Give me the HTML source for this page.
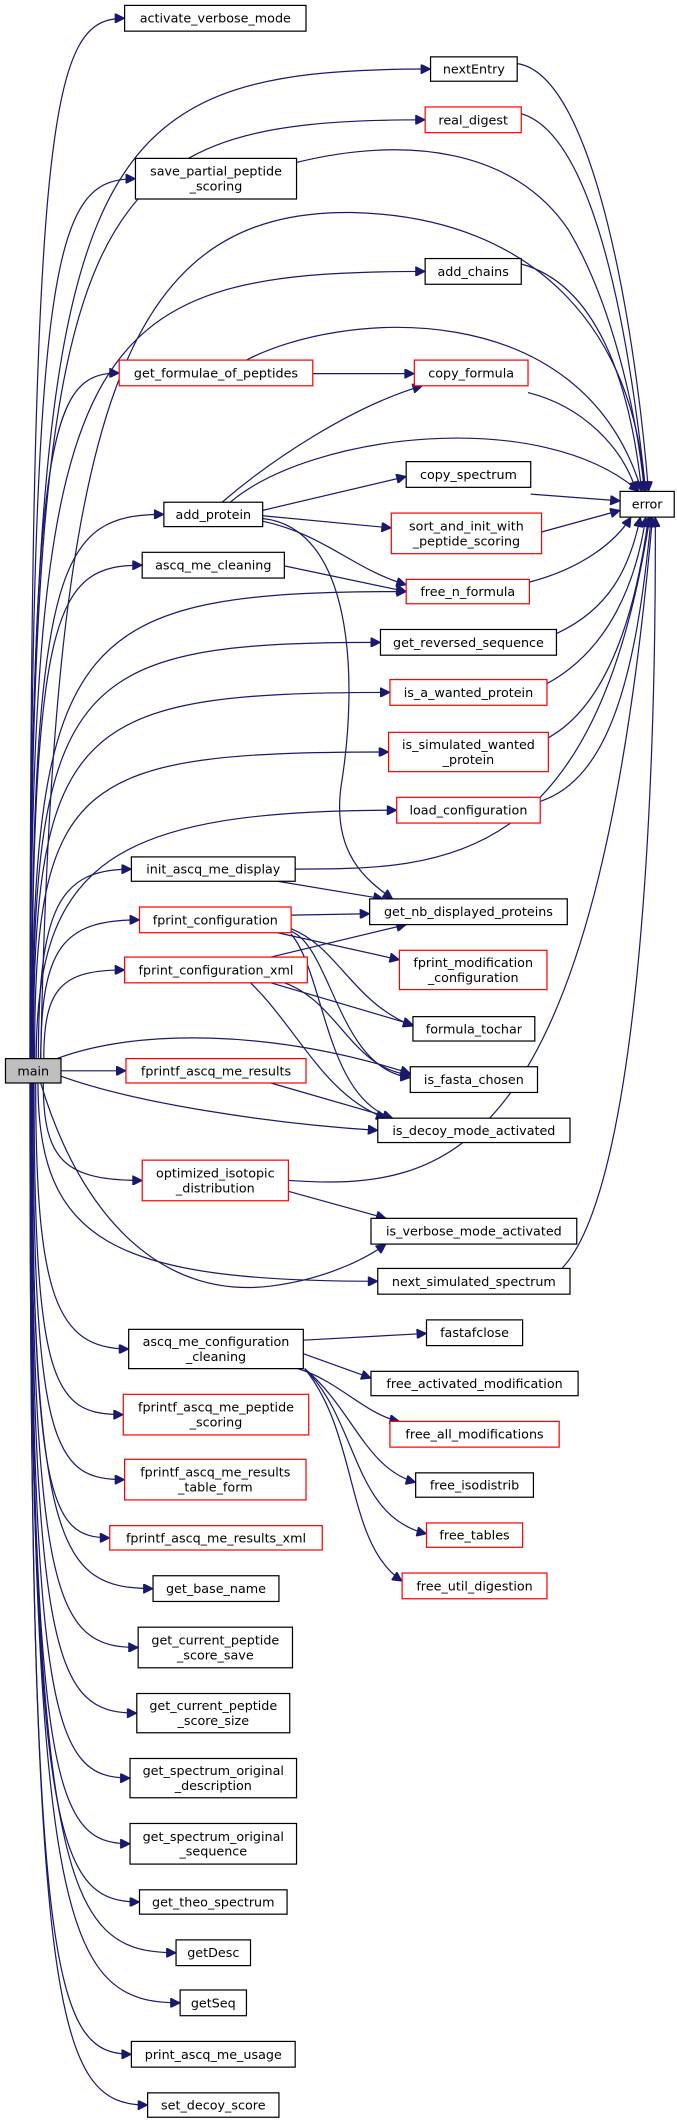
<!DOCTYPE html>
<html><head><meta charset="utf-8">
<style>
html,body{margin:0;padding:0;background:#fff;}
svg{display:block;}
text{font-family:"DejaVu Sans","Liberation Sans",sans-serif;font-size:9.4px;fill:#000;}
</style></head>
<body>
<svg id="s" width="677" height="2124" viewBox="0 0 500 1569" xmlns="http://www.w3.org/2000/svg">
<defs>
<marker id="a" viewBox="0 0 10 10" refX="10" refY="5" markerWidth="9" markerHeight="7" markerUnits="userSpaceOnUse" orient="auto">
<path d="M0,0 L10,5 L0,10 z" fill="#191970" stroke="#191970"/>
</marker>
</defs>
<g id="edges" fill="none" stroke="#191970" stroke-width="0.9"></g>
<g id="nodes"></g>
</svg>
<script>
var N={
main:[4,782,45,800,'main','g'],
act:[92,4,226,23,'activate_verbose_mode','k'],
next:[318,42,382,60,'nextEntry','k'],
real:[314,79,385,98,'real_digest','r'],
save:[100,117,219,147,'save_partial_peptide|_scoring','k'],
chains:[314,191,385,210,'add_chains','k'],
form:[88,266,231,285,'get_formulae_of_peptides','r'],
copyf:[306,266,390,285,'copy_formula','r'],
err:[458,363,498,382,'error','k'],
addp:[121,371,194,389,'add_protein','k'],
copys:[300,341,392,360,'copy_spectrum','k'],
sort:[289,379,400,409,'sort_and_init_with|_peptide_scoring','r'],
clean:[105,408,210,427,'ascq_me_cleaning','k'],
freen:[300,428,391,446,'free_n_formula','r'],
rev:[281,465,411,484,'get_reversed_sequence','k'],
wanted:[288,502,404,521,'is_a_wanted_protein','r'],
simw:[287,541,405,570,'is_simulated_wanted|_protein','r'],
load:[293,589,399,608,'load_configuration','r'],
init:[97,633,218,651,'init_ascq_me_display','k'],
nb:[273,664,419,683,'get_nb_displayed_proteins','k'],
fconf:[103,670,215,689,'fprint_configuration','r'],
fmod:[295,702,404,731,'fprint_modification|_configuration','r'],
fxml:[92,707,227,726,'fprint_configuration_xml','r'],
tochar:[305,751,395,769,'formula_tochar','k'],
fasta:[303,788,397,807,'is_fasta_chosen','k'],
fres:[93,782,226,800,'fprintf_ascq_me_results','r'],
decoy:[279,826,421,844,'is_decoy_mode_activated','k'],
opt:[105,857,213,887,'optimized_isotopic|_distribution','r'],
verb:[274,900,426,919,'is_verbose_mode_activated','k'],
nss:[279,937,421,956,'next_simulated_spectrum','k'],
cc:[95,982,224,1011,'ascq_me_configuration|_cleaning','k'],
fclose:[315,975,386,994,'fastafclose','k'],
fam:[274,1013,427,1031,'free_activated_modification','k'],
fall:[288,1050,413,1069,'free_all_modifications','r'],
fiso:[307,1088,394,1106,'free_isodistrib','k'],
ftab:[315,1125,386,1143,'free_tables','r'],
futil:[297,1162,404,1181,'free_util_digestion','r'],
pps:[91,1030,228,1060,'fprintf_ascq_me_peptide|_scoring','r'],
rtf:[92,1078,226,1108,'fprintf_ascq_me_results|_table_form','r'],
rxml:[81,1127,238,1145,'fprintf_ascq_me_results_xml','r'],
base:[113,1164,206,1183,'get_base_name','k'],
save2:[102,1202,216,1232,'get_current_peptide|_score_save','k'],
size:[101,1251,214,1280,'get_current_peptide|_score_size','k'],
desc:[96,1299,219,1328,'get_spectrum_original|_description','k'],
seqo:[96,1347,219,1377,'get_spectrum_original|_sequence','k'],
theo:[103,1396,212,1414,'get_theo_spectrum','k'],
gdesc:[130,1433,185,1452,'getDesc','k'],
gseq:[133,1470,182,1489,'getSeq','k'],
usage:[97,1508,218,1527,'print_ascq_me_usage','k'],
setd:[109,1546,206,1564,'set_decoy_score','k']
};
var NS="http://www.w3.org/2000/svg";
var eg=document.getElementById('edges'), ng=document.getElementById('nodes');
function P(d){var p=document.createElementNS(NS,'path');p.setAttribute('d',d);p.setAttribute('marker-end','url(#a)');eg.appendChild(p);}
var mt=['act','next','real','save','chains','form','addp','clean','freen','rev','wanted','simw','load','init','fconf','fxml','fres','opt','nss','cc','pps','rtf','rxml','base','save2','size','desc','seqo','theo','gdesc','gseq','usage','setd'];
mt.forEach(function(k){
 var n=N[k];var ex=n[0],ey=(n[1]+n[3])/2;
 var up=ey<782;var sy=up?782:800;
 if(k==='fres'){P('M45,791 L'+ex+','+ey);return;}
 var dy=Math.abs(ey-sy);
 var sx=22+16*Math.exp(-dy/150);
 var f=dy>200?0.92:0.8;
 var c1y=sy+(ey-sy)*f;
 var g=(ex>260&&dy>200)?0.12:0.22;
 P('M'+sx.toFixed(1)+','+sy+' C'+sx.toFixed(1)+','+c1y.toFixed(1)+' '+(sx+(ex-sx)*g).toFixed(1)+','+ey+' '+ex+','+ey);
});
var E=[
'M30,782 C40,300 90,155 260,157 C400,160 470,250 476,363',
'M42,782 C100,760 200,760 303,793',
'M45,795 C100,815 200,830 279,835',
'M30,800 C60,900 120,960 200,950 C240,945 270,930 285,919',
'M219,120 C300,100 380,110 420,170 C450,220 470,300 476,363',
'M182,266 C250,230 430,215 474,363',
'M170,371 C230,320 400,300 472,363',
'M218,642 C330,642 440,640 480,382',
'M213,872 C330,880 440,860 482,382',
'M415,937 C470,880 485,600 484,382',
'M399,592 C450,575 470,500 481,382',
'M405,545 C450,520 470,450 479,382',
'M404,505 C450,480 470,430 477,382',
'M411,468 C450,450 465,420 473,382',
'M391,430 C430,420 455,400 466,382',
'M400,393 L458,377',
'M392,365 L458,370',
'M390,290 C430,300 460,330 470,363',
'M385,195 C440,210 465,280 474,363',
'M385,84 C440,100 465,250 477,363',
'M382,47 C440,55 470,250 479,363',
'M164,371 C200,340 260,300 312,285',
'M194,377 L300,352',
'M194,381 L289,390',
'M194,385 C240,395 260,420 300,432',
'M194,383 C260,390 265,500 252,580 C245,630 270,650 290,664',
'M231,276 L306,276',
'M210,418 L300,437',
'M205,651 L283,664',
'M215,676 L273,675',
'M205,689 L295,709',
'M215,686 C250,700 260,740 305,758',
'M215,688 C245,700 250,790 303,796',
'M215,690 C240,720 240,810 290,826',
'M200,707 L300,683',
'M200,726 L305,757',
'M210,726 C250,740 260,790 303,794',
'M185,726 C220,760 240,810 285,826',
'M200,800 L290,826',
'M213,880 L285,900',
'M224,990 L315,985',
'M224,1000 L274,1018',
'M220,1011 C250,1020 270,1045 295,1050',
'M225,1011 C260,1040 270,1085 307,1095',
'M225,1011 C265,1050 260,1120 315,1133',
'M225,1011 C265,1060 255,1140 297,1168'
];
E.forEach(P);
for(var k in N){var n=N[k];
 var r=document.createElementNS(NS,'rect');
 r.setAttribute('x',n[0]);r.setAttribute('y',n[1]);r.setAttribute('width',n[2]-n[0]);r.setAttribute('height',n[3]-n[1]);
 r.setAttribute('fill',n[5]==='g'?'#bfbfbf':'#fff');
 r.setAttribute('stroke',n[5]==='r'?'#ff0000':'#000');r.setAttribute('stroke-width','0.9');
 ng.appendChild(r);
 var lines=n[4].split('|');var cx=(n[0]+n[2])/2,cy=(n[1]+n[3])/2;
 lines.forEach(function(t,i){
  var tx=document.createElementNS(NS,'text');
  tx.setAttribute('x',cx);tx.setAttribute('y',cy+3.3+(i-(lines.length-1)/2)*11);
  tx.setAttribute('text-anchor','middle');tx.textContent=t;ng.appendChild(tx);
 });
}
</script>
</body></html>
